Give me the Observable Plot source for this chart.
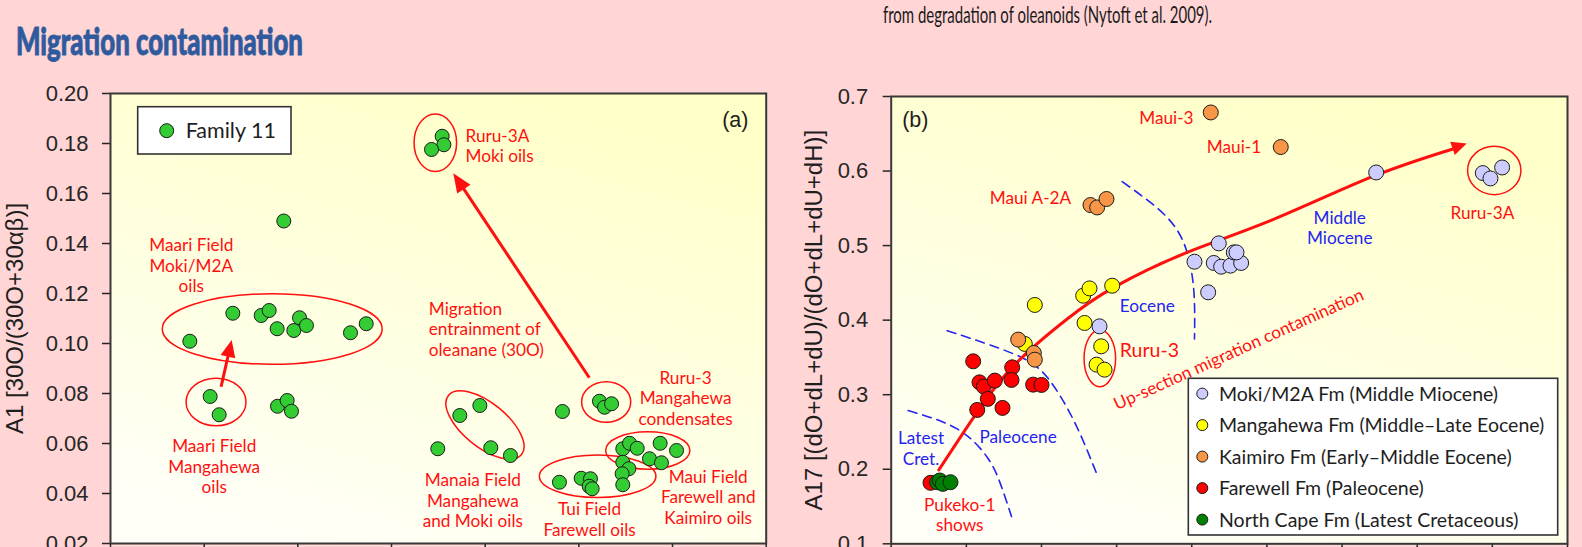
<!DOCTYPE html>
<html><head><meta charset="utf-8">
<script src="https://cdn.jsdelivr.net/npm/d3@7"></script>
<script src="https://cdn.jsdelivr.net/npm/@observablehq/plot@0.6"></script>
<style>
html,body{margin:0;padding:0;background:#FFD5D5;overflow:hidden;width:1582px;height:547px;}
.panel{position:absolute;top:0;}
#pa{left:0px}
#pb{left:780px}
#overlay{position:absolute;left:0;top:0;pointer-events:none}
</style></head><body>
<div id="pa" class="panel"></div>
<div id="pb" class="panel"></div>
<svg id="overlay" width="1582" height="547"></svg>
<script>
// ---------- Page texts ----------
const titleText = "Migration contamination";
const subtitleText = "from degradation of oleanoids (Nytoft et al. 2009).";

// ---------- Panel (a): Family 11 ----------
const aLegend = ["Family 11"];
const aYLabel = "A1 [30O/(30O+30αβ)]";
const aYTicks = [0.02, 0.04, 0.06, 0.08, 0.10, 0.12, 0.14, 0.16, 0.18, 0.20];
const aXTicks = [0, 1, 2, 3, 4, 5, 6, 7];
const famX = [1.85, 0.847, 1.306, 1.609, 1.694, 1.779, 1.957, 2.018, 2.092, 2.562, 2.73, 1.064, 1.16, 1.783, 1.886, 1.932,
  3.541, 3.559, 3.427,
  3.729, 3.943, 4.06, 4.27, 3.494,
  4.825,
  5.22, 5.274, 5.349,
  4.793, 5.025, 5.124, 5.11, 5.142,
  5.469, 5.541, 5.623, 5.868, 6.043, 5.754, 5.882, 5.469, 5.534, 5.462, 5.469];
const famY = [0.149, 0.1009, 0.1121, 0.1112, 0.1132, 0.1059, 0.1052, 0.1103, 0.1072, 0.1043, 0.1079, 0.0788, 0.0715, 0.0749, 0.0772, 0.0729,
  0.1829, 0.1795, 0.1776,
  0.0712, 0.0752, 0.0583, 0.0552, 0.0579,
  0.0728,
  0.0769, 0.0745, 0.0759,
  0.0445, 0.0461, 0.0459, 0.0429, 0.0419,
  0.0579, 0.0601, 0.0581, 0.0601, 0.0572, 0.0539, 0.0523, 0.0525, 0.0499, 0.0479, 0.0435];
const aNotes = [
  {text: "Maari Field\nMoki/M2A\noils", x: 0.862, y: 0.1205, anchor: "middle", kind: "red"},
  {text: "Maari Field\nMangahewa\noils", x: 1.107, y: 0.0401, anchor: "middle", kind: "red"},
  {text: "Ruru-3A\nMoki oils", x: 3.79, y: 0.1725, anchor: "start", kind: "red"},
  {text: "Migration\nentrainment of\noleanane (30O)", x: 3.398, y: 0.0952, anchor: "start", kind: "red"},
  {text: "Ruru-3\nMangahewa\ncondensates", x: 6.139, y: 0.0676, anchor: "middle", kind: "red"},
  {text: "Manaia Field\nMangahewa\nand Moki oils", x: 3.868, y: 0.0265, anchor: "middle", kind: "red"},
  {text: "Tui Field\nFarewell oils", x: 5.114, y: 0.0232, anchor: "middle", kind: "red"},
  {text: "Maui Field\nFarewell and\nKaimiro oils", x: 6.381, y: 0.0279, anchor: "middle", kind: "red"},
  {text: "(a)", x: 6.811, y: 0.1868, anchor: "end", kind: "panel"}
];
const aEllipses = [
  {cx: 1.732, cy: 0.1056, rx: 1.174, ry: 0.0141, angle: 0},
  {cx: 1.132, cy: 0.0764, rx: 0.32, ry: 0.0095, angle: 0},
  {cx: 3.473, cy: 0.1801, rx: 0.227, ry: 0.0115, angle: 0},
  {cx: 4.003, cy: 0.0672, rx: 0.502, ry: 0.0088, angle: 39},
  {cx: 5.297, cy: 0.0764, rx: 0.262, ry: 0.0081, angle: 0},
  {cx: 5.206, cy: 0.0467, rx: 0.622, ry: 0.0085, angle: 0},
  {cx: 5.741, cy: 0.057, rx: 0.45, ry: 0.0075, angle: 0}
];
const aArrows = [
  {x1: 1.186, y1: 0.0825, x2: 1.299, y2: 0.1012},
  {x1: 5.117, y1: 0.0861, x2: 3.665, y2: 0.1679}
];

// ---------- Panel (b) ----------
const bYLabel = "A17 [(dO+dL+dU)/(dO+dL+dU+dH)]";
const bYTicks = [0.1, 0.2, 0.3, 0.4, 0.5, 0.6, 0.7];
const bXTicks = [0, 1, 2, 3, 4, 5, 6, 7, 8, 9];
const seriesNames = ["Moki/M2A Fm (Middle Miocene)", "Mangahewa Fm (Middle–Late Eocene)", "Kaimiro Fm (Early–Middle Eocene)", "Farewell Fm (Paleocene)", "North Cape Fm (Latest Cretaceous)"];
const seriesColors = ["#CCCCFF", "#FFFF00", "#F79646", "#FF0000", "#008000"];
const mokiX = [2.772, 4.036, 4.359, 4.293, 4.391, 4.515, 4.657, 4.559, 4.595, 4.218, 6.454, 7.873, 7.975, 8.13];
const mokiY = [0.3917, 0.4784, 0.503, 0.4767, 0.4717, 0.4731, 0.4767, 0.4909, 0.4909, 0.4373, 0.5981, 0.5973, 0.5901, 0.6048];
const mangX = [1.778, 1.911, 2.555, 2.639, 2.941, 2.573, 2.795, 2.733, 2.839];
const mangY = [0.3681, 0.4204, 0.4328, 0.4426, 0.4462, 0.3962, 0.3649, 0.3403, 0.3336];
const kaimX = [1.69, 1.898, 1.911, 2.652, 2.741, 2.865, 4.253, 5.184];
const kaimY = [0.3739, 0.356, 0.347, 0.5544, 0.5512, 0.5625, 0.6786, 0.6322];
const farX = [0.523, 1.091, 1.175, 1.233, 1.379, 1.286, 1.145, 1.481, 1.61, 1.601, 1.889, 2.0];
const farY = [0.1818, 0.3448, 0.3166, 0.3109, 0.3189, 0.2944, 0.2796, 0.2823, 0.3367, 0.3198, 0.3135, 0.3131];
const ncX = [0.612, 0.647, 0.687, 0.789];
const ncY = [0.1826, 0.1849, 0.1804, 0.1826];
const trendX = [0.633, 1.099, 1.631, 2.342, 2.962, 3.939, 5.047, 6.378, 7.476];
const trendY = [0.199, 0.27, 0.339, 0.4016, 0.444, 0.4909, 0.5334, 0.5914, 0.6296];
const trendHead = [{x1: 7.476, y1: 0.6296, x2: 7.665, y2: 0.6362}];
const bound1X = [0.226, 0.878, 1.277, 1.454, 1.601];
const bound1Y = [0.2787, 0.2541, 0.2161, 0.1804, 0.1366];
const bound2X = [0.745, 1.631, 2.076, 2.43, 2.732];
const bound2Y = [0.3859, 0.3547, 0.3233, 0.2653, 0.1946];
const bound3X = [3.074, 3.627, 3.916, 4.027, 4.036];
const bound3Y = [0.5857, 0.5424, 0.4976, 0.4395, 0.3748];
const bNotes = [
  {text: "(b)", x: 0.146, y: 0.6594, anchor: "start", kind: "panel"},
  {text: "Maui-3", x: 4.023, y: 0.6634, anchor: "end", kind: "red"},
  {text: "Maui-1", x: 4.923, y: 0.6236, anchor: "end", kind: "red"},
  {text: "Maui A-2A", x: 2.395, y: 0.5558, anchor: "end", kind: "red"},
  {text: "Eocene", x: 3.042, y: 0.4105, anchor: "start", kind: "blue"},
  {text: "Ruru-3", x: 3.042, y: 0.3501, anchor: "start", kind: "redBig"},
  {text: "Latest\nCret.", x: 0.397, y: 0.2063, anchor: "middle", kind: "blue"},
  {text: "Paleocene", x: 1.175, y: 0.2349, anchor: "start", kind: "blue"},
  {text: "Pukeko-1\nshows", x: 0.913, y: 0.1169, anchor: "middle", kind: "red"},
  {text: "Middle\nMiocene", x: 5.969, y: 0.5021, anchor: "middle", kind: "blue"},
  {text: "Ruru-3A", x: 7.868, y: 0.5357, anchor: "middle", kind: "red"},
  {text: "Up-section migration contamination", x: 4.655, y: 0.3537, anchor: "middle", kind: "redRot"}
];
const bEllipses = [
  {cx: 2.783, cy: 0.348, rx: 0.21, ry: 0.038, angle: 0},
  {cx: 8.032, cy: 0.6001, rx: 0.355, ry: 0.0324, angle: 0}
];

// ---------- styling ----------
const RED = "#FF1010", BLUE = "#2424F0", INK = "#1E1E1E";
const TICKFONT = "'Liberation Sans', Arial, sans-serif";
const NOTEFONT = "Lato, 'Open Sans', sans-serif";
const noteStyle = {
  red: {fill: RED, fontSize: 17.2, fontFamily: NOTEFONT},
  blue: {fill: BLUE, fontSize: 17.2, fontFamily: NOTEFONT},
  redBig: {fill: RED, fontSize: 19.5, fontFamily: NOTEFONT},
  redRot: {fill: RED, fontSize: 17.2, fontFamily: NOTEFONT, rotate: -24.2},
  panel: {fill: INK, fontSize: 21.5, fontFamily: TICKFONT}
};

function bgMark(id) {
  return (index, scales, values, dims) => {
    const g = d3.create("svg:g");
    const grad = g.append("defs").append("linearGradient").attr("id", id)
      .attr("x1", 0.7).attr("y1", 0).attr("x2", 0.3).attr("y2", 1);
    grad.append("stop").attr("offset", 0).attr("stop-color", "#FFFFC8");
    grad.append("stop").attr("offset", 1).attr("stop-color", "#FFFFF7");
    g.append("rect").attr("x", dims.marginLeft).attr("y", dims.marginTop)
      .attr("width", dims.width - dims.marginLeft - dims.marginRight)
      .attr("height", dims.height - dims.marginTop - dims.marginBottom)
      .attr("fill", `url(#${id})`);
    return g.node();
  };
}
function ellipseMark(list) {
  return (index, {x, y}) => {
    const g = d3.create("svg:g").attr("fill", "none").attr("stroke", RED).attr("stroke-width", 1.5);
    for (const e of list) {
      const cx = x(e.cx), cy = y(e.cy);
      const rx = Math.abs(x(e.cx + e.rx) - cx), ry = Math.abs(y(e.cy + e.ry) - cy);
      g.append("ellipse").attr("cx", cx).attr("cy", cy).attr("rx", rx).attr("ry", ry)
        .attr("transform", `rotate(${e.angle} ${cx} ${cy})`);
    }
    return g.node();
  };
}
function arrowMark(list, {width = 3, headLen = 18, headW = 16, shaft = true} = {}) {
  return (index, {x, y}) => {
    const g = d3.create("svg:g");
    for (const a of list) {
      const x1 = x(a.x1), y1 = y(a.y1), x2 = x(a.x2), y2 = y(a.y2);
      const ang = Math.atan2(y2 - y1, x2 - x1);
      const c = Math.cos(ang), s = Math.sin(ang);
      const bx = x2 - headLen * c, by = y2 - headLen * s;
      if (shaft) g.append("line").attr("x1", x1).attr("y1", y1).attr("x2", bx + 2 * c).attr("y2", by + 2 * s)
        .attr("stroke", RED).attr("stroke-width", width);
      const px = -s * headW / 2, py = c * headW / 2;
      g.append("path").attr("d", `M${x2},${y2}L${bx + px},${by + py}L${bx - px},${by - py}Z`).attr("fill", RED);
    }
    return g.node();
  };
}
function noteMarks(notes) {
  return notes.map(d => Plot.text([d], {
    x: "x", y: "y", text: "text", textAnchor: d.anchor, lineAnchor: "bottom",
    lineHeight: d.kind === "panel" ? 1 : 20.5 / noteStyle[d.kind].fontSize,
    ...noteStyle[d.kind]
  }));
}

const famData = famX.map((x, i) => ({x, y: famY[i]}));
const bData = [];
[[mokiX, mokiY], [mangX, mangY], [kaimX, kaimY], [farX, farY], [ncX, ncY]].forEach(([xs, ys], k) => {
  xs.forEach((x, i) => bData.push({x, y: ys[i], series: seriesNames[k]}));
});
const trend = trendX.map((x, i) => ({x, y: trendY[i]}));
const bounds = [[bound1X, bound1Y], [bound2X, bound2Y], [bound3X, bound3Y]]
  .flatMap(([xs, ys], k) => xs.map((x, i) => ({x, y: ys[i], k})));

const plotA = Plot.plot({
  width: 800, height: 583,
  marginLeft: 110, marginTop: 93, marginRight: 34.3, marginBottom: 40,
  x: {domain: [0, 7]}, y: {domain: [0.02, 0.20]},
  style: {background: "transparent", fontFamily: TICKFONT, color: "#262626", overflow: "visible"},
  marks: [
    bgMark("gA"),
    Plot.axisY({ticks: aYTicks, tickFormat: d3.format(".2f"), tickSize: 8, tickPadding: 14, fontSize: 22, label: null, strokeWidth: 1.5}),
    Plot.axisX({ticks: aXTicks, tickSize: 8, tickFormat: () => "", fontSize: 22, label: null, strokeWidth: 1.5}),
    Plot.text([aYLabel], {text: d => d, frameAnchor: "left", textAnchor: "middle", lineAnchor: "middle", rotate: -90, dx: -95, fontSize: 24, fill: INK}),
    ellipseMark(aEllipses),
    arrowMark(aArrows.slice(0, 1), {width: 3, headLen: 17, headW: 15}),
    arrowMark(aArrows.slice(1), {width: 3, headLen: 19, headW: 16}),
    Plot.dot(famData, {x: "x", y: "y", r: 7, fill: "#33CC33", stroke: "#1a1a1a", strokeWidth: 1}),
    ...noteMarks(aNotes),
    Plot.frame({stroke: "#383838", strokeWidth: 2})
  ]
});
document.getElementById("pa").appendChild(plotA);

const plotB = Plot.plot({
  width: 802, height: 583.3,
  marginLeft: 110.7, marginTop: 96, marginRight: 15, marginBottom: 40,
  x: {domain: [0, 9]}, y: {domain: [0.1, 0.7]},
  color: {domain: seriesNames, range: seriesColors},
  style: {background: "transparent", fontFamily: TICKFONT, color: "#262626", overflow: "visible"},
  marks: [
    bgMark("gB"),
    Plot.axisY({ticks: bYTicks, tickFormat: d3.format(".1f"), tickSize: 8, tickPadding: 15, fontSize: 22, label: null, strokeWidth: 1.5}),
    Plot.axisX({ticks: bXTicks, tickSize: 8, tickFormat: () => "", fontSize: 22, label: null, strokeWidth: 1.5}),
    Plot.text([bYLabel], {text: d => d, frameAnchor: "left", textAnchor: "middle", lineAnchor: "middle", rotate: -90, dx: -77, fontSize: 24, fill: INK}),
    Plot.line(bounds, {x: "x", y: "y", z: "k", curve: "natural", stroke: BLUE, strokeWidth: 1.6, strokeDasharray: "9,6"}),
    ellipseMark(bEllipses),
    Plot.line(trend, {x: "x", y: "y", curve: "natural", stroke: RED, strokeWidth: 3}),
    arrowMark(trendHead, {shaft: false, headLen: 15, headW: 14}),
    Plot.dot(bData, {x: "x", y: "y", r: 7.5, fill: "series", stroke: "#1a1a1a", strokeWidth: 1}),
    ...noteMarks(bNotes),
    Plot.frame({stroke: "#383838", strokeWidth: 2})
  ]
});
document.getElementById("pb").appendChild(plotB);

// ---------- overlay: title, subtitle, legends ----------
const ov = d3.select("#overlay");
ov.append("text").attr("x", 16).attr("y", 55).attr("font-family", NOTEFONT).attr("font-weight", 900)
  .attr("font-size", 38).attr("fill", "#2F5B9E").attr("stroke", "#2F5B9E").attr("stroke-width", 0.9)
  .attr("textLength", 287).attr("lengthAdjust", "spacingAndGlyphs")
  .text(titleText);
ov.append("text").attr("x", 883).attr("y", 23).attr("font-family", NOTEFONT)
  .attr("font-size", 23).attr("fill", "#1a1a1a").attr("textLength", 329).attr("lengthAdjust", "spacingAndGlyphs")
  .text(subtitleText);

// legend (a)
const la = ov.append("g");
la.append("rect").attr("x", 137.7).attr("y", 106.7).attr("width", 153.3).attr("height", 47.3)
  .attr("fill", "#fff").attr("stroke", "#333").attr("stroke-width", 1.6);
la.append("circle").attr("cx", 166.7).attr("cy", 130.7).attr("r", 7).attr("fill", "#33CC33").attr("stroke", "#1a1a1a");
la.append("text").attr("x", 185.7).attr("y", 138).attr("font-family", NOTEFONT).attr("font-size", 21.5)
  .attr("fill", INK).text(aLegend[0]);

// legend (b)
const lb = ov.append("g");
lb.append("rect").attr("x", 1188.3).attr("y", 378.3).attr("width", 369.4).attr("height", 156.7)
  .attr("fill", "#fff").attr("stroke", "#333").attr("stroke-width", 1.6);
seriesNames.forEach((name, i) => {
  const cy = 393.6 + i * 31.5;
  lb.append("circle").attr("cx", 1202.3).attr("cy", cy).attr("r", 5.5).attr("fill", seriesColors[i]).attr("stroke", "#1a1a1a");
  lb.append("text").attr("x", 1219).attr("y", cy + 7).attr("font-family", NOTEFONT).attr("font-size", 19.5)
    .attr("fill", INK).text(name);
});
</script></body></html>
